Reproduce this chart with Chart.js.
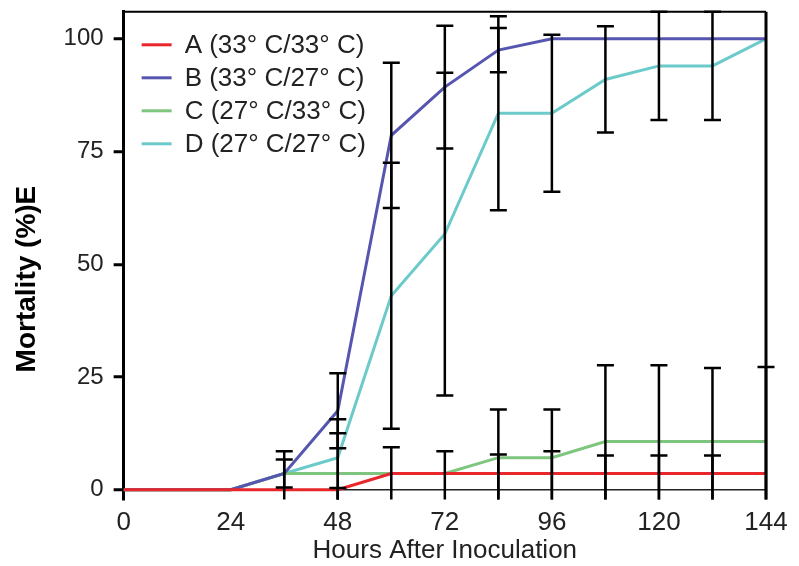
<!DOCTYPE html>
<html lang="en">
<head>
  <meta charset="UTF-8">
  <title>Mortality after inoculation</title>
  <script src="https://cdn.jsdelivr.net/npm/chart.js"></script>
  <style>
    html, body { margin: 0; padding: 0; background: #fff; }
  </style>
</head>
<body>
  <canvas id="grafico" width="799" height="566"></canvas>

  <script>
    // sampling times (hours after inoculation)
    const hours = [0, 12, 24, 36, 48, 60, 72, 84, 96, 108, 120, 132, 144];

    const labelsSerie = ['A (33° C/33° C)', 'B (33° C/27° C)', 'C (27° C/33° C)', 'D (27° C/27° C)'];

    // mean mortality (%)
    const mortA = [0, 0, 0, 0, 0, 3.6, 3.6, 3.6, 3.6, 3.6, 3.6, 3.6, 3.6];
    const mortB = [0, 0, 0, 3.6, 17.5, 78.6, 89.3, 97.5, 100, 100, 100, 100, 100];
    const mortC = [0, 0, 0, 3.6, 3.6, 3.6, 3.6, 7.1, 7.1, 10.7, 10.7, 10.7, 10.7];
    const mortD = [0, 0, 0, 3.6, 7.1, 43, 56.7, 83.5, 83.5, 91, 94, 94, 100];

    // error bar half-widths
    const errA = [0, 0, 0, 0, 0.4, 0, 0, 4.2, 4.9, 4, 4, 4, 0];
    const errB = [0, 0, 0, 4.9, 8.3, 16.1, 13.6, 4.9, 0, 0, 0, 0, 0];
    const errC = [0, 0, 0, 0, 8.9, 5.8, 4.9, 10.7, 10.7, 16.9, 16.9, 16.3, 16.5];
    const errD = [0, 0, 0, 3.1, 8.5, 29.5, 35.8, 21.5, 17.4, 11.8, 12, 12, 0];

    const xTicks = [0, 24, 48, 72, 96, 120, 144];
    const yTicks = [0, 25, 50, 75, 100];

    const cores = ['#e8262b', '#5656b0', '#7ec57e', '#6ccaca'];
    const fonte = '"Liberation Sans", Arial, Helvetica, sans-serif';

    const pontos = vals => vals.map((v, i) => ({x: hours[i], y: v}));

    // vertical error bars with caps
    const errorBars = {
      id: 'errorBars',
      afterDatasetsDraw(chart) {
        const {ctx, chartArea, scales: {x, y}} = chart;
        ctx.save();
        ctx.strokeStyle = '#000';
        ctx.lineWidth = 2.5;
        chart.data.datasets.forEach(ds => {
          ds.erros.forEach((err, i) => {
            if (!err) return;
            const media = ds.data[i].y;
            const hi = media + err, lo = media - err;
            const px = x.getPixelForValue(hours[i]);
            const yHi = hi > y.max ? chartArea.top : y.getPixelForValue(hi);
            const yLo = lo < 0 ? chartArea.bottom : y.getPixelForValue(lo);
            ctx.beginPath();
            ctx.moveTo(px, yHi);
            ctx.lineTo(px, yLo);
            if (hi <= y.max) { ctx.moveTo(px - 8.5, yHi); ctx.lineTo(px + 8.5, yHi); }
            if (lo >= 0) { ctx.moveTo(px - 8.5, yLo); ctx.lineTo(px + 8.5, yLo); }
            ctx.stroke();
          });
        });
        ctx.restore();
      }
    };

    // top / right frame and the legend inside the plot
    const moldura = {
      id: 'moldura',
      afterDraw(chart) {
        const {ctx, chartArea: a} = chart;
        ctx.save();
        ctx.strokeStyle = '#000';
        ctx.lineWidth = 2;
        ctx.beginPath();
        ctx.moveTo(a.left, a.top);
        ctx.lineTo(a.right, a.top);
        ctx.stroke();
        ctx.lineWidth = 3;
        ctx.beginPath();
        ctx.moveTo(a.right, a.top);
        ctx.lineTo(a.right, a.bottom);
        ctx.stroke();

        ctx.font = '26px ' + fonte;
        ctx.textBaseline = 'middle';
        chart.data.datasets.forEach((ds, i) => {
          const yy = a.top + 33 + i * 33;
          ctx.strokeStyle = ds.borderColor;
          ctx.lineWidth = 3;
          ctx.beginPath();
          ctx.moveTo(a.left + 18, yy);
          ctx.lineTo(a.left + 48, yy);
          ctx.stroke();
          ctx.fillStyle = '#222';
          ctx.fillText(ds.label, a.left + 61, yy + 1);
        });
        ctx.restore();
      }
    };

    const series = [mortA, mortB, mortC, mortD];
    const erros = [errA, errB, errC, errD];

    const ctx = document.getElementById('grafico').getContext('2d');
    new Chart(ctx, {
      type: 'line',
      data: {
        datasets: series.map((s, i) => ({
          label: labelsSerie[i],
          data: pontos(s),
          erros: erros[i],
          borderColor: cores[i],
          backgroundColor: cores[i],
          borderWidth: 3,
          pointRadius: 0,
          tension: 0,
          fill: false
        }))
      },
      options: {
        responsive: false,
        animation: false,
        layout: { padding: { top: 1, right: 33, bottom: 0, left: 0 } },
        plugins: {
          legend: { display: false },
          tooltip: { enabled: false }
        },
        scales: {
          x: {
            type: 'linear',
            min: 0,
            max: 144,
            afterBuildTicks: scale => { scale.ticks = xTicks.map(v => ({value: v})); },
            grid: { display: false, drawTicks: false, tickLength: 0 },
            border: { display: false },
            ticks: { color: '#222', padding: 8, font: { family: fonte, size: 26 } },
            title: {
              display: true,
              text: 'Hours After Inoculation',
              color: '#222',
              padding: { top: -12, bottom: 0 },
              font: { family: fonte, size: 26 }
            }
          },
          y: {
            min: -2.2,
            max: 106,
            afterBuildTicks: scale => { scale.ticks = yTicks.map(v => ({value: v})); },
            grid: {
              color: c => (c.tick && c.tick.value === 0 ? '#222' : 'rgba(0,0,0,0)'),
              lineWidth: 1.5,
              tickColor: '#000',
              tickWidth: 3,
              tickLength: 10
            },
            border: { display: true, color: '#000', width: 3 },
            ticks: { color: '#222', padding: 10, font: { family: fonte, size: 24, lineHeight: 0.15 } },
            title: {
              display: true,
              text: 'Mortality (%)E      ',
              color: '#000',
              padding: { top: 10, bottom: 10 },
              font: { family: fonte, size: 28, weight: 'bold' }
            }
          }
        }
      },
      plugins: [errorBars, moldura]
    });
  </script>
</body>
</html>
